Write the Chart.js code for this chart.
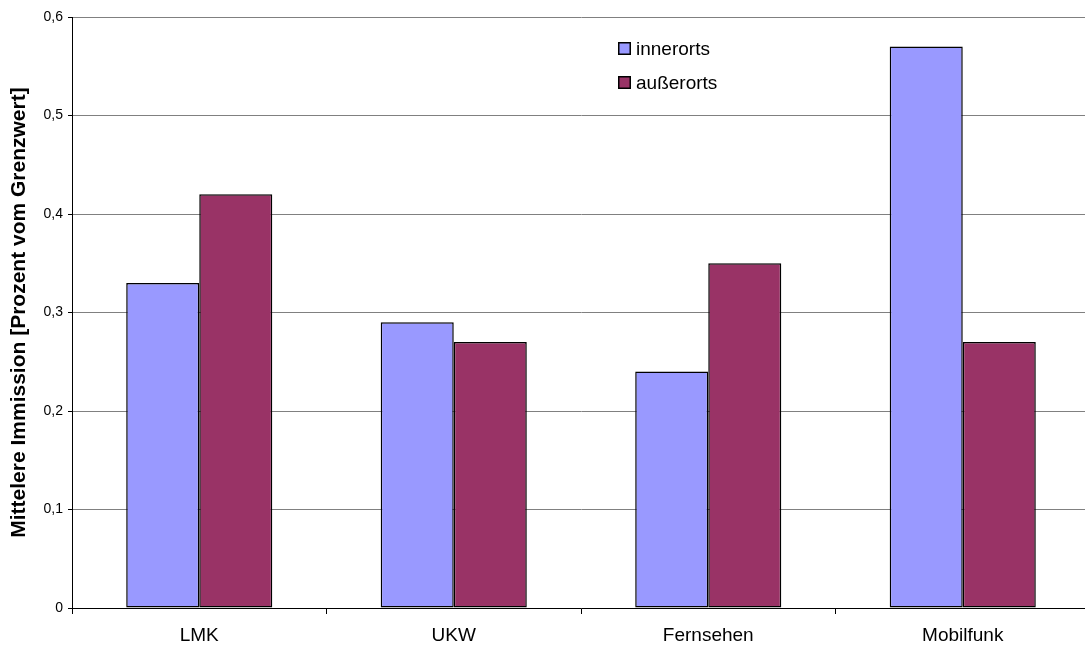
<!DOCTYPE html>
<html>
<head>
<meta charset="utf-8">
<script src="https://cdn.jsdelivr.net/npm/chart.js@4/dist/chart.umd.min.js"></script>
<style>
  html, body { margin: 0; padding: 0; background: #fff; overflow: hidden; }
  #wrap { width: 1085px; height: 648px; overflow: hidden; }
  canvas { display: block; }
</style>
</head>
<body>
<div id="wrap"><canvas id="c" width="1092" height="648"></canvas></div>
<script>
const categories = ['LMK', 'UKW', 'Fernsehen', 'Mobilfunk'];
const innerorts = [0.33, 0.29, 0.24, 0.57];
const ausserorts = [0.42, 0.27, 0.35, 0.27];
const seriesNames = ['innerorts', 'außerorts'];
const yTitle = 'Mittelere Immission [Prozent vom Grenzwert]';

const FONT = '"Liberation Sans", Arial, sans-serif';

// Legend drawn inside the plot area, as stacked square swatches
const insideLegend = {
  id: 'insideLegend',
  afterDraw(chart) {
    const ctx = chart.ctx;
    const x0 = 618, y0 = 48.5, step = 34, box = 13;
    ctx.save();
    ctx.font = '19px ' + FONT;
    ctx.textBaseline = 'middle';
    chart.data.datasets.forEach((ds, i) => {
      const cy = y0 + i * step;
      ctx.fillStyle = ds.backgroundColor;
      ctx.fillRect(x0, cy - box / 2, box, box);
      ctx.strokeStyle = '#000';
      ctx.lineWidth = 1.5;
      ctx.strokeRect(x0 + 0.75, cy - box / 2 + 0.75, box - 1.5, box - 1.5);
      ctx.fillStyle = '#000';
      ctx.fillText(ds.label, x0 + 18, cy + 1);
    });
    ctx.restore();
  }
};

new Chart(document.getElementById('c'), {
  type: 'bar',
  data: {
    labels: categories,
    datasets: [
      { label: seriesNames[0], data: innerorts, backgroundColor: '#9999FF' },
      { label: seriesNames[1], data: ausserorts, backgroundColor: '#993366' }
    ]
  },
  options: {
    responsive: false,
    animation: false,
    layout: { padding: { left: 0, right: 2, top: 17, bottom: 0 } },
    datasets: {
      bar: {
        categoryPercentage: 0.574,
        barPercentage: 1.0,
        borderColor: '#000',
        borderWidth: 1.5,
        borderSkipped: false
      }
    },
    plugins: {
      legend: { display: false },
      tooltip: { enabled: false }
    },
    scales: {
      x: {
        offset: true,
        grid: {
          offset: true,
          drawOnChartArea: false,
          drawTicks: true,
          tickLength: 6,
          color: '#000'
        },
        border: { display: true, color: '#000', width: 1 },
        ticks: {
          color: '#000',
          font: { family: FONT, size: 19 },
          padding: 10
        },
        afterFit(scale) { scale.height = 40; }
      },
      y: {
        min: 0,
        max: 0.6,
        ticks: {
          stepSize: 0.1,
          color: '#000',
          font: { family: FONT, size: 14 },
          padding: 5,
          callback: v => (Math.round(v * 10) / 10).toString().replace('.', ',')
        },
        grid: {
          color: '#808080',
          drawTicks: true,
          tickLength: 4,
          tickColor: '#000'
        },
        border: { display: true, color: '#000', width: 1 },
        title: {
          display: true,
          text: yTitle,
          color: '#000',
          font: { family: FONT, size: 21, weight: 'bold' },
          padding: { top: 7, bottom: 0 }
        },
        afterFit(scale) { scale.width = 72; }
      }
    }
  },
  plugins: [insideLegend]
});
</script>
</body>
</html>
